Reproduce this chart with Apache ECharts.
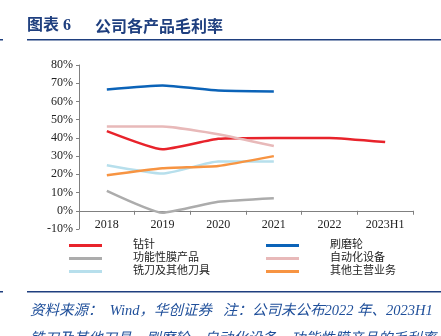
<!DOCTYPE html>
<html>
<head>
<meta charset="utf-8">
<script src="https://cdn.jsdelivr.net/npm/echarts@6/dist/echarts.min.js"></script>
<style>
  html, body { margin: 0; padding: 0; background: #fff; }
  #chart { width: 441px; height: 336px; }
</style>
</head>
<body>
<div id="chart"></div>
<script>
// Gross margin by product line (%), null where not disclosed
const categories = ['2018', '2019', '2020', '2021', '2022', '2023H1'];
const drillBits   = [43.7, 33.7, 39.5, 40.0, 40.0, 37.7];   // 钻针
const brushWheels = [66.6, 68.7, 66.0, 65.5, null, null];   // 刷磨轮
const filmProducts = [10.9, -1.1, 4.9, 6.9, null, null];    // 功能性膜产品
const automation  = [46.3, 46.3, 42.0, 35.5, null, null];   // 自动化设备
const millingTools = [25.0, 20.4, 27.0, 27.0, null, null];  // 铣刀及其他刀具
const otherBiz    = [19.5, 23.3, 24.6, 30.0, null, null];   // 其他主营业务
const yTicks = { min: -10, max: 80, interval: 10 };

const serif = '"Liberation Serif", "Noto Sans CJK SC", serif';
const navy = '#1f3f7f';

const seriesDefs = [
  { name: '钻针', data: drillBits, color: '#e8232b' },
  { name: '刷磨轮', data: brushWheels, color: '#0b63b8' },
  { name: '功能性膜产品', data: filmProducts, color: '#acacac' },
  { name: '自动化设备', data: automation, color: '#e8b9b9' },
  { name: '铣刀及其他刀具', data: millingTools, color: '#b7dfec' },
  { name: '其他主营业务', data: otherBiz, color: '#f79442' }
];

const legendBase = {
  orient: 'vertical',
  icon: 'rect',
  itemWidth: 33,
  itemHeight: 3,
  itemGap: 0,
  top: 234,
  selectedMode: false,
  textStyle: { fontFamily: serif, fontSize: 11, color: '#222', lineHeight: 13, padding: [0, 0, 0, 26] }
};

const chart = echarts.init(document.getElementById('chart'), null, { renderer: 'canvas' });
chart.setOption({
  animation: false,
  grid: { left: 79, right: 28, top: 65, bottom: 107 },
  legend: [
    Object.assign({}, legendBase, { left: 64, data: ['钻针', '功能性膜产品', '铣刀及其他刀具'] }),
    Object.assign({}, legendBase, { left: 261, data: ['刷磨轮', '自动化设备', '其他主营业务'] })
  ],
  xAxis: {
    type: 'category',
    data: categories,
    boundaryGap: true,
    axisLine: { onZero: true, lineStyle: { color: '#808080', width: 1 } },
    axisTick: { show: true, length: 4, lineStyle: { color: '#808080' } },
    axisLabel: { fontFamily: serif, fontSize: 12, color: '#222', margin: -10 }
  },
  yAxis: {
    type: 'value',
    min: yTicks.min,
    max: yTicks.max,
    interval: yTicks.interval,
    axisLine: { show: true, lineStyle: { color: '#808080', width: 1 } },
    axisTick: { show: true, length: 3, lineStyle: { color: '#808080' } },
    splitLine: { show: false },
    axisLabel: { fontFamily: serif, fontSize: 12, color: '#222', margin: 6, formatter: '{value}%' }
  },
  series: seriesDefs.map(s => ({
    name: s.name,
    type: 'line',
    data: s.data,
    smooth: 0.15,
    symbol: 'none',
    connectNulls: false,
    color: s.color,
    lineStyle: { width: 2.5, color: s.color },
    itemStyle: { color: s.color }
  })),
  graphic: [
    { type: 'text', left: 27, top: 18, style: { text: '图表 6', font: 'bold 16px ' + serif, fill: navy } },
    { type: 'text', left: 95, top: 18, style: { text: '公司各产品毛利率', font: 'bold 16px "Noto Sans CJK SC", sans-serif', fill: navy } },
    { type: 'rect', shape: { x: 27, y: 39, width: 414, height: 1.5 }, style: { fill: navy } },
    { type: 'rect', shape: { x: 0, y: 39, width: 3, height: 1.5 }, style: { fill: navy } },
    { type: 'rect', shape: { x: 27, y: 291, width: 414, height: 1.5 }, style: { fill: navy } },
    { type: 'rect', shape: { x: 0, y: 291, width: 3, height: 1.5 }, style: { fill: navy } },
    { type: 'text', left: 30, top: 304, style: { text: '资料来源：  Wind，华创证券   注：公司未公布2022 年、2023H1', font: 'italic 14.5px ' + serif, fill: '#1f4f9a' } },
    { type: 'text', left: 30, top: 332, style: { text: '铣刀及其他刀具、刷磨轮、自动化设备、功能性膜产品的毛利率', font: 'italic 14.5px ' + serif, fill: '#1f4f9a' } }
  ]
});
</script>
</body>
</html>
